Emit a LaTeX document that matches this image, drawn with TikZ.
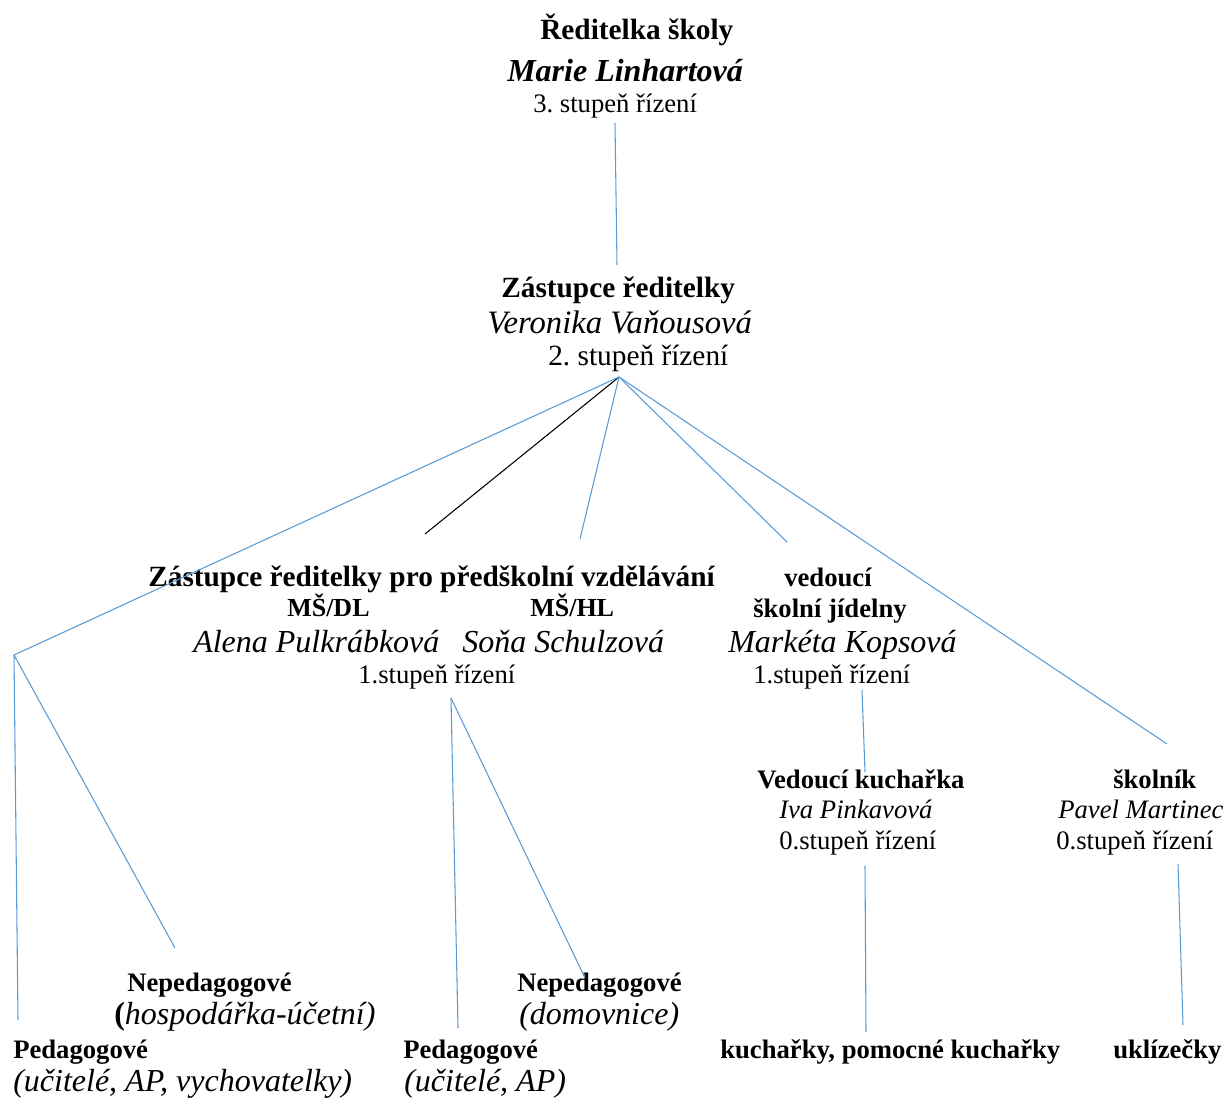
\documentclass[tikz,border=0pt]{standalone}
\usepackage{fontspec}
\setmainfont{Liberation Serif}
\usepackage{tikz}
\usetikzlibrary{positioning,calc}
\definecolor{linkblue}{RGB}{91,155,213}
\frenchspacing

\begin{document}
\begin{tikzpicture}[x=0.75pt, y=-0.75pt,
        txt/.style={anchor=base west, inner sep=0pt},
        boss/.style={txt, font=\bfseries\fontsize{22}{26}\selectfont},
        role/.style={txt, font=\bfseries\fontsize{20}{24}\selectfont},
        who/.style={txt, font=\itshape\fontsize{24}{28}\selectfont},
        whosmall/.style={txt, font=\itshape\fontsize{20}{24}\selectfont},
        grade/.style={txt, font=\fontsize{20}{24}\selectfont},
        link/.style={draw=linkblue, line width=0.8pt},
        blacklink/.style={draw=black, line width=0.8pt}
    ]
        \useasboundingbox (0,0) rectangle (1223,1098);

        % director
        \node [boss] (dir) at (540,40) {Ředitelka školy};
        \node [txt, font=\bfseries\itshape\fontsize{24}{28}\selectfont] (dirname) at (507,82) {Marie Linhartová};
        \node [grade] (dirgrade) at (533,113) {3. stupeň řízení};

        % deputy
        \node [boss] (dep) at (501,297) {Zástupce ředitelky};
        \node [who, font=\itshape\fontsize{24.5}{28}\selectfont] (depname) at (487,333) {Veronika Vaňousová};
        \node [grade, font=\fontsize{22}{26}\selectfont] (depgrade) at (548,365) {2. stupeň řízení};

        % preschool
        \node [boss] (pre) at (148,586) {Zástupce ředitelky pro předškolní vzdělávání};
        \node [role, font=\bfseries\fontsize{19.5}{24}\selectfont] (predl) at (287,616) {MŠ/DL};
        \node [role, font=\bfseries\fontsize{19.5}{24}\selectfont] (prehl) at (530,616) {MŠ/HL};
        \node [who] (predlname) at (193,652) {Alena Pulkrábková};
        \node [who] (prehlname) at (462,652) {Soňa Schulzová};
        \node [grade] (pregrade) at (358,683) {1.stupeň řízení};

        % canteen
        \node [role] (can) at (784,586) {vedoucí};
        \node [role] (can2) at (753,617) {školní jídelny};
        \node [who] (canname) at (728,652) {Markéta Kopsová};
        \node [grade] (cangrade) at (753,683) {1.stupeň řízení};

        % head cook, caretaker
        \node [role] (cook) at (757,788) {Vedoucí kuchařka};
        \node [whosmall] (cookname) at (779,818) {Iva Pinkavová};
        \node [grade] (cookgrade) at (779,849) {0.stupeň řízení};
        \node [role] (care) at (1113,788) {školník};
        \node [whosmall] (carename) at (1058,818) {Pavel Martinec};
        \node [grade] (caregrade) at (1056,849) {0.stupeň řízení};

        % staff
        \node [role] (nped1) at (127,991) {Nepedagogové};
        \node [txt, font=\fontsize{24}{28}\selectfont] (nped1txt) at (114,1024) {{\bfseries(}{\itshape hospodářka-účetní)}};
        \node [role] (nped2) at (517,991) {Nepedagogové};
        \node [who] (nped2txt) at (519,1024) {(domovnice)};
        \node [role] (ped1) at (13,1058) {Pedagogové};
        \node [who] (ped1txt) at (13,1091) {(učitelé, AP, vychovatelky)};
        \node [role] (ped2) at (403,1058) {Pedagogové};
        \node [who] (ped2txt) at (404,1091) {(učitelé, AP)};
        \node [role] (cooks) at (720,1058) {kuchařky, pomocné kuchařky};
        \node [role] (clean) at (1113,1058) {uklízečky};

        % connector ends
        \coordinate (dirdown) at (615,123);
        \coordinate (depup) at (617,265);
        \coordinate (hub) at (619,377);
        \coordinate (leftjoin) at (14,655);
        \coordinate (preup) at (425,534);
        \coordinate (hlup) at (580,539);
        \coordinate (canup) at (787,542);
        \coordinate (careup) at (1167,744);
        \coordinate (ped1up) at (18,1020);
        \coordinate (nped1up) at (175,948);
        \coordinate (predown) at (451,698);
        \coordinate (ped2up) at (458,1028);
        \coordinate (nped2up) at (585,978);
        \coordinate (candown) at (862,690);
        \coordinate (cookup) at (865,772);
        \coordinate (cookdown) at (865,866);
        \coordinate (cooksup) at (866,1032);
        \coordinate (caredown) at (1178,864);
        \coordinate (cleanup) at (1183,1025);

        \draw [link] (dirdown) -- (depup);
        \draw [blacklink] (hub) -- (preup);
        \draw [link] (hub) -- (leftjoin);
        \draw [link] (hub) -- (hlup);
        \draw [link] (hub) -- (canup);
        \draw [link] (hub) -- (careup);
        \draw [link] (leftjoin) -- (ped1up);
        \draw [link] (leftjoin) -- (nped1up);
        \draw [link] (predown) -- (ped2up);
        \draw [link] (predown) -- (nped2up);
        \draw [link] (candown) -- (cookup);
        \draw [link] (cookdown) -- (cooksup);
        \draw [link] (caredown) -- (cleanup);
    \end{tikzpicture}
\end{document}
